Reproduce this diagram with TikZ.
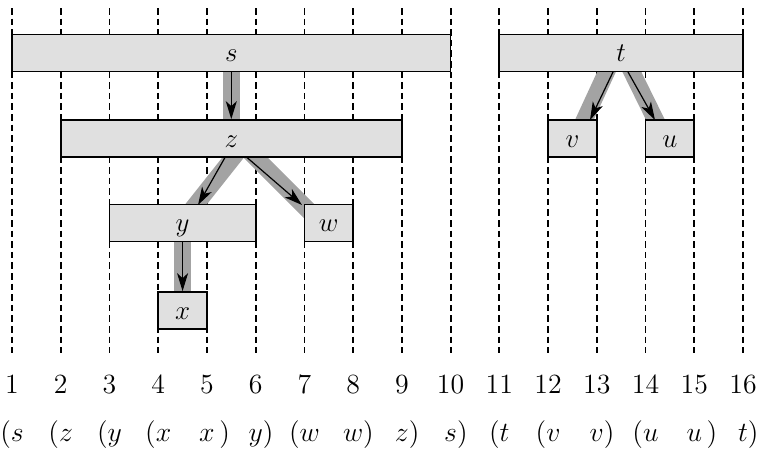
\RequirePackage{fix-cm}
\documentclass[tikz,border=0pt]{standalone}
\usetikzlibrary{arrows.meta}
\begin{document}
\begin{tikzpicture}[x=0.5pt,y=-0.5pt,
  box/.style={draw=black,line width=0.85pt,fill=black!12,inner sep=0pt,
    minimum height=18.5pt,text height=9pt,text depth=0.5pt,
    font=\fontsize{13.5}{15}\selectfont},
  gridline/.style={line width=0.9pt,dash pattern=on 3.3pt off 2pt},
  band/.style={line width=8.5pt,draw=black!36},
  arr/.style={line width=0.6pt,-{Stealth[length=9pt,width=5.5pt,inset=2.5pt]}},
  lab/.style={anchor=base,inner sep=0pt,font=\fontsize{13.9}{16}\selectfont}]
\useasboundingbox (0,0) rectangle (761,450);
% dashed grid
\foreach \k in {1,...,16}
  \draw[gridline] ({12+48.733*(\k-1)},8) -- ({12+48.733*(\k-1)},353);
% gray bands (behind boxes)
\coordinate (b1a) at (231.3,60);  \coordinate (b1b) at (231.3,130);
\coordinate (b2a) at (247,140);   \coordinate (b2b) at (182,222);
\coordinate (b3a) at (237,139);   \coordinate (b3b) at (320,222);
\coordinate (b4a) at (182.6,230); \coordinate (b4b) at (182.6,300);
\coordinate (b5a) at (612,60);    \coordinate (b5b) at (582,125);
\coordinate (b6a) at (626,60);    \coordinate (b6b) at (658,125);
\draw[band] (b1a) -- (b1b);
\draw[band] (b2a) -- (b2b);
\draw[band] (b3a) -- (b3b);
\draw[band] (b4a) -- (b4b);
\draw[band] (b5a) -- (b5b);
\draw[band] (b6a) -- (b6b);
% boxes
\node[box,minimum width=219.3pt] (ns) at (231.3,53) {$s$};
\node[box,minimum width=170.6pt] (nz) at (231.3,138.5) {$z$};
\node[box,minimum width=73.1pt]  (ny) at (182.57,223) {$y$};
\node[box,minimum width=24.37pt] (nw) at (328.77,223) {$w$};
\node[box,minimum width=24.37pt] (nx) at (182.57,310.5) {$x$};
\node[box,minimum width=121.83pt] (nt) at (621.17,53) {$t$};
\node[box,minimum width=24.37pt] (nv) at (572.43,138.5) {$v$};
\node[box,minimum width=24.37pt] (nu) at (669.9,138.5) {$u$};
% arrows
\coordinate (zy1) at (225,157.5); \coordinate (zy2) at (198,205);
\coordinate (zw1) at (247,157.5); \coordinate (zw2) at (302,205);
\coordinate (tv1) at (613,72);    \coordinate (tv2) at (590,120);
\coordinate (tu1) at (628,72);    \coordinate (tu2) at (655,120);
\draw[arr] (ns.south) -- (nz.north);
\draw[arr] (zy1) -- (zy2);
\draw[arr] (zw1) -- (zw2);
\draw[arr] (ny.south) -- (nx.north);
\draw[arr] (tv1) -- (tv2);
\draw[arr] (tu1) -- (tu2);
% numbers
\foreach \k in {1,...,16}
  \node[lab] (num\k) at ({12+48.733*(\k-1)},393) {\k};
% parenthesis structure
\node[lab] (p1) at (12,441) {$(s$};
\node[lab] (p2) at (60.73,441) {$(z$};
\node[lab] (p3) at (109.47,441) {$(y$};
\node[lab] (p4) at (158.2,441) {$(x$};
\node[lab] (p5) at (206.93,441) {$x$\rlap{$\,)$}};
\node[lab] (p6) at (255.67,441) {$y$\rlap{$)$}};
\node[lab] (p7) at (304.4,441) {$(w$};
\node[lab] (p8) at (353.13,441) {$w$\rlap{$)$}};
\node[lab] (p9) at (401.87,441) {$z$\rlap{$)$}};
\node[lab] (p10) at (450.6,441) {$s$\rlap{$)$}};
\node[lab] (p11) at (499.33,441) {$(t$};
\node[lab] (p12) at (548.07,441) {$(v$};
\node[lab] (p13) at (596.8,441) {$v$\rlap{$)$}};
\node[lab] (p14) at (645.53,441) {$(u$};
\node[lab] (p15) at (694.27,441) {$u$\rlap{$\,)$}};
\node[lab] (p16) at (743,441) {$t$\rlap{$)$}};
\end{tikzpicture}
\end{document}
